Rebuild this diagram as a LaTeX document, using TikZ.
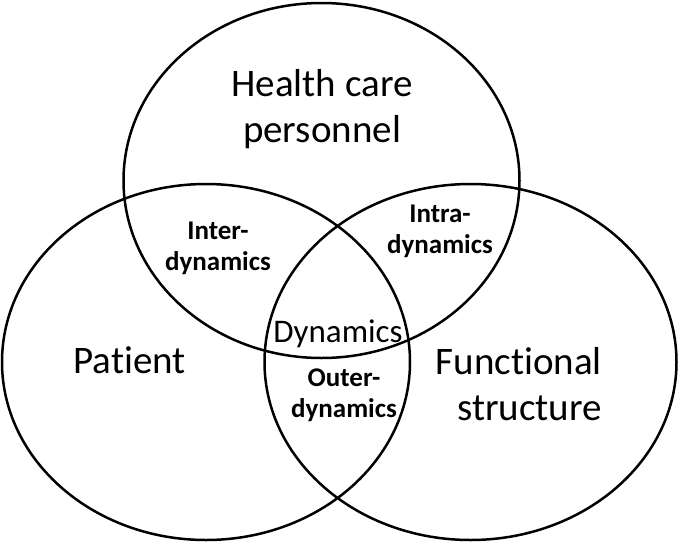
\documentclass[tikz,border=0pt]{standalone}
\usepackage{fontspec}
\setmainfont{Carlito}[Ligatures=NoCommon]
\begin{document}
\begin{tikzpicture}[x=1pt,y=-1pt,
  set/.style={draw=black,line width=2.5pt},
  biglabel/.style={inner sep=0pt,align=center,font={\fontsize{39}{45.5}\selectfont}},
  midlabel/.style={inner sep=0pt,align=center,font={\fontsize{33}{40}\selectfont}},
  smalllabel/.style={inner sep=0pt,align=center,font={\bfseries\fontsize{27}{31}\selectfont}}]
\useasboundingbox (0,0) rectangle (678,542);
\draw[set] (321.5,180.5) ellipse [x radius=198, y radius=177.5];
\draw[set] (206,362) ellipse [x radius=204, y radius=178];
\draw[set] (470.5,362) ellipse [x radius=206, y radius=178];
\node[biglabel,anchor=base] (hcp) at (322,142) {Health care\\personnel};
\node[biglabel,anchor=base] (pat) at (129.5,373) {Patient};
\node[biglabel,anchor=base east,align=right] (fun) at (602,420) {Functional\\structure};
\node[midlabel,anchor=base] (dyn) at (338,342) {Dynamics};
\node[smalllabel,anchor=base] (inter) at (218,270) {Inter-\\dynamics};
\node[smalllabel,anchor=base] (intra) at (440,253) {Intra-\\dynamics};
\node[smalllabel,anchor=base] (outer) at (344,417) {Outer-\\dynamics};
\end{tikzpicture}
\end{document}
